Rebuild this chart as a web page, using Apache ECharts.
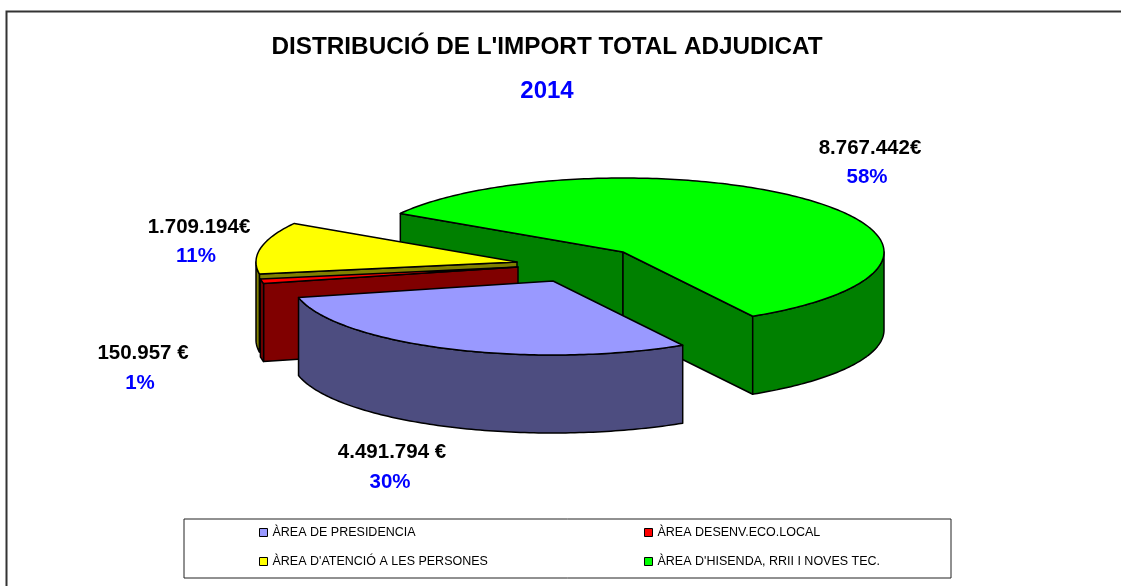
<!DOCTYPE html>
<html><head><meta charset="utf-8">
<style>html,body{margin:0;padding:0;background:#fff}#c{width:1121px;height:586px}</style>
<script src="https://cdn.jsdelivr.net/npm/echarts@6/dist/echarts.min.js"></script>
</head><body><div id="c"></div>
<script>
const categories = ["ÀREA DE PRESIDENCIA", "ÀREA DESENV.ECO.LOCAL", "ÀREA D'ATENCIÓ A LES PERSONES", "ÀREA D'HISENDA, RRII I NOVES TEC."];
const importValues = [4491794, 150957, 1709194, 8767442];
const amountLabels = ["4.491.794 €", "150.957 €", "1.709.194€", "8.767.442€"];
const percentLabels = ["30%", "1%", "11%", "58%"];
const topColors = ["#9999FF", "#FF0000", "#FFFF00", "#00FF00"];
const sideColors = ["#4D4D80", "#800000", "#808000", "#008000"];

// layout of the tilted, exploded pie
const sliceCenters = [[553, 281], [518, 267], [517, 262], [623, 252]];
const RX = 261, RY = 74, DEPTH = 78, START_DEG = 60.2;
const labelPos = [[[392, 452], [390, 482]], [[143, 353], [140, 383]], [[199, 227], [196, 256]], [[870, 148], [867, 177]]];
const legendPos = [[259, 526], [644, 526], [259, 555], [644, 555]];

const total = importValues.reduce((a, b) => a + b, 0);
const rad = d => d * Math.PI / 180;
function spanOf(i) {
  let a = START_DEG;
  for (let k = 0; k < i; k++) a += importValues[k] / total * 360;
  return [a, a + importValues[i] / total * 360];
}
const line = { stroke: "#000", lineWidth: 1.5, lineJoin: "round" };
function poly(points, fill) {
  return { type: "polygon", shape: { points }, style: Object.assign({ fill }, line) };
}
function renderSlice(i) {
  const [cx, cy] = sliceCenters[i];
  const [a, b] = spanOf(i);
  const pt = (d, dz) => [cx + RX * Math.cos(rad(d)), cy + RY * Math.sin(rad(d)) + (dz || 0)];
  const children = [];
  const top = [[cx, cy]];
  for (let d = a; d < b; d += 1) top.push(pt(d));
  top.push(pt(b));
  // cut faces turned to the viewer
  const face = d => poly([[cx, cy], pt(d), pt(d, DEPTH), [cx, cy + DEPTH]], sideColors[i]);
  if (Math.cos(rad(a)) < 0) children.push(face(a));
  if (Math.cos(rad(b)) > 0) children.push(face(b));
  // outer wall: the front half of the rim only
  [[0, 180], [360, 540]].forEach(([lo, hi]) => {
    const s = Math.max(a, lo), e = Math.min(b, hi);
    if (s >= e) return;
    const upper = [], lower = [];
    for (let d = s; d < e; d += 1) { upper.push(pt(d)); lower.unshift(pt(d, DEPTH)); }
    upper.push(pt(e)); lower.unshift(pt(e, DEPTH));
    children.push(poly(upper.concat(lower), sideColors[i]));
  });
  children.push(poly(top, topColors[i]));
  return { type: "group", children };
}
const drawOrder = [3, 2, 1, 0];
const series = drawOrder.map(i => ({
  type: "custom",
  name: categories[i],
  coordinateSystem: "none",
  silent: true,
  animation: false,
  clip: false,
  itemStyle: { color: topColors[i] },
  data: [importValues[i]],
  renderItem: () => renderSlice(i)
}));
const legend = categories.map((n, i) => ({
  data: [n],
  left: legendPos[i][0],
  top: legendPos[i][1],
  padding: 0,
  icon: "rect",
  itemWidth: 8,
  itemHeight: 8,
  itemGap: 5,
  selectedMode: false,
  itemStyle: { borderColor: "#000", borderWidth: 1 },
  textStyle: { color: "#000", fontFamily: "Liberation Sans", fontSize: 12.5, padding: [0, 0, 0, 0] }
}));
const textEl = (t, pos, fill, size) => ({
  type: "text", x: pos[0], y: pos[1], silent: true,
  style: { text: t, fill, font: "bold " + size + "px 'Liberation Sans'", textAlign: "center", textVerticalAlign: "middle" }
});
const graphic = [
  { type: "polyline", silent: true, z: -1, shape: { points: [[6.5, 586], [6.5, 11.5], [1121, 11.5]] }, style: { stroke: "#333", lineWidth: 2, fill: null } },
  { type: "rect", silent: true, z: -1, shape: { x: 184, y: 519, width: 767, height: 59 }, style: { fill: "#fff", stroke: "#222", lineWidth: 1 } }
];
importValues.forEach((_, i) => {
  graphic.push(textEl(amountLabels[i], labelPos[i][0], "#000", 20.5));
  graphic.push(textEl(percentLabels[i], labelPos[i][1], "#0000FF", 20.5));
});
const chart = echarts.init(document.getElementById("c"), null, { renderer: "canvas" });
chart.setOption({
  backgroundColor: "#fff",
  animation: false,
  title: [
    { text: "DISTRIBUCIÓ DE L'IMPORT TOTAL ADJUDICAT", left: 547, top: 35, textAlign: "center", padding: 0,
      textStyle: { color: "#000", fontFamily: "Liberation Sans", fontWeight: "bold", fontSize: 24.3 } },
    { text: "2014", left: 547, top: 79, textAlign: "center", padding: 0,
      textStyle: { color: "#0000FF", fontFamily: "Liberation Sans", fontWeight: "bold", fontSize: 24 } }
  ],
  legend,
  graphic,
  series
});
</script></body></html>
